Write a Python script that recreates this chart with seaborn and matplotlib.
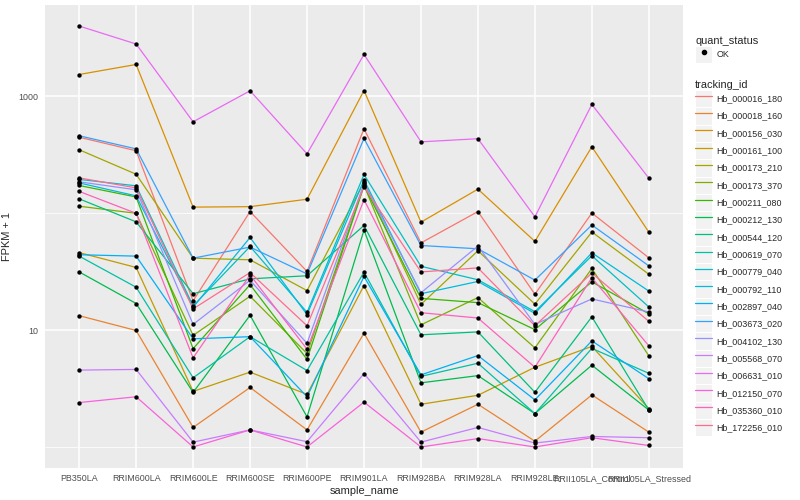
import matplotlib
matplotlib.use('Agg')
import matplotlib.pyplot as plt
import pandas as pd
import seaborn as sns
from matplotlib.lines import Line2D
from matplotlib.patches import Rectangle
from matplotlib.legend_handler import HandlerLine2D

# Data (FPKM values, plotted as FPKM + 1)
samples = ['PB350LA', 'RRIM600LA', 'RRIM600LE', 'RRIM600SE', 'RRIM600PE', 'RRIM901LA',
           'RRIM928BA', 'RRIM928LA', 'RRIM928LE', 'RRII105LA_Control', 'RRII105LA_Stressed']

tracking_ids = ['Hb_000016_180', 'Hb_000018_160', 'Hb_000156_030', 'Hb_000161_100',
                'Hb_000173_210', 'Hb_000173_370', 'Hb_000211_080', 'Hb_000212_130',
                'Hb_000544_120', 'Hb_000619_070', 'Hb_000779_040', 'Hb_000792_110',
                'Hb_002897_040', 'Hb_003673_020', 'Hb_004102_130', 'Hb_005568_070',
                'Hb_006631_010', 'Hb_012150_070', 'Hb_035360_010', 'Hb_172256_010']

hb_000016_180 = [447, 342, 16.8, 102.5, 30.8, 528, 54.8, 102.5, 19.3, 99.5, 40.6]
hb_000018_160 = [12.3, 8.93, 0.47, 2.23, 0.40, 8.42, 0.34, 1.32, 0.12, 1.79, 0.34]
hb_000156_030 = [1541, 1878, 112, 113, 131, 1124, 83, 160, 56.5, 370, 68]
hb_000161_100 = [45.1, 33.4, 1.99, 3.37, 1.82, 23.1, 1.32, 1.77, 3.81, 6.26, 1.13]
hb_000173_210 = [349, 215, 40.3, 39.0, 20.8, 184, 15.6, 46.8, 15.7, 68.2, 29.1]
hb_000173_370 = [114, 99, 8.02, 18.5, 5.31, 173, 10.1, 18.0, 6.05, 32.7, 5.03]
hb_000211_080 = [172, 137, 5.95, 23.5, 4.62, 171, 17.7, 16.2, 9.1, 24.9, 12.8]
hb_000212_130 = [30.5, 15.9, 1.93, 12.4, 0.81, 70.9, 2.54, 3.08, 0.93, 4.01, 1.07]
hb_000544_120 = [132, 83.5, 19.5, 26.5, 28.2, 77.7, 8.12, 8.66, 1.94, 12.0, 1.07]
hb_000619_070 = [42.0, 22.3, 2.91, 7.79, 3.51, 30.4, 3.02, 4.21, 0.93, 5.98, 3.27]
hb_000779_040 = [194, 171, 15.1, 51, 13.2, 214, 34.2, 26.0, 13.4, 42.3, 14.8]
hb_000792_110 = [181, 140, 14.7, 61.1, 12.6, 192, 19.5, 25.1, 12.9, 44.9, 20.6]
hb_002897_040 = [43.2, 42.0, 7.43, 7.79, 1.69, 27.8, 3.14, 5.06, 1.53, 7.09, 2.84]
hb_003673_020 = [460, 355, 40.3, 50.4, 29.3, 436, 52.0, 48.7, 25.8, 78.4, 34.5]
hb_004102_130 = [185, 158, 10.2, 25.7, 6.71, 179, 19.9, 51.4, 10.2, 17.5, 13.3]
hb_005568_070 = [3.55, 3.61, 0.10, 0.40, 0.11, 3.25, 0.10, 0.47, 0.08, 0.23, 0.20]
hb_006631_010 = [4008, 2811, 606, 1118, 322, 2290, 408, 434, 92.3, 854, 199]
hb_012150_070 = [1.40, 1.69, 0.0, 0.40, 0.0, 1.42, 0.0, 0.18, 0.0, 0.20, 0.03]
hb_035360_010 = [153, 99, 4.79, 28.7, 5.87, 130, 13.1, 11.7, 3.81, 27.1, 6.34]
hb_172256_010 = [200, 164, 14.2, 30.1, 9.9, 168, 30.5, 33.1, 9.9, 29.8, 10.9]

values = [hb_000016_180, hb_000018_160, hb_000156_030, hb_000161_100, hb_000173_210,
          hb_000173_370, hb_000211_080, hb_000212_130, hb_000544_120, hb_000619_070,
          hb_000779_040, hb_000792_110, hb_002897_040, hb_003673_020, hb_004102_130,
          hb_005568_070, hb_006631_010, hb_012150_070, hb_035360_010, hb_172256_010]

# ggplot default hue palette for 20 groups
colors = ['#F8766D', '#EA8331', '#D89000', '#C09B00', '#A3A500', '#7CAE00', '#39B600',
          '#00BB4E', '#00BF7D', '#00C1A3', '#00BFC4', '#00BAE0', '#00B0F6', '#35A2FF',
          '#9590FF', '#C77CFF', '#E76BF3', '#FA62DB', '#FF62BC', '#FF6C91']

rows = []
for tid, vals in zip(tracking_ids, values):
    for s, v in zip(samples, vals):
        rows.append({'tracking_id': tid, 'sample_name': s, 'fpkm': v, 'quant_status': 'OK'})
df = pd.DataFrame(rows)
df['fpkm1'] = df['fpkm'] + 1

sns.set_style('darkgrid', {'axes.facecolor': '#EBEBEB', 'grid.color': 'white'})
plt.rcParams['font.family'] = ['Liberation Sans', 'DejaVu Sans']

fig = plt.figure(figsize=(8, 5), dpi=100)
ax = fig.add_axes([45 / 800, 1 - 468 / 500, 638 / 800, 463 / 500])

sns.lineplot(data=df, x='sample_name', y='fpkm1', hue='tracking_id', hue_order=tracking_ids,
             palette=colors, sort=False, errorbar=None, linewidth=0.9, legend=False, ax=ax)
sns.scatterplot(data=df, x='sample_name', y='fpkm1', color='black', s=10, linewidth=0,
                legend=False, ax=ax, zorder=5)

ax.set_yscale('log')
ax.set_ylim(10 ** -0.18, 10 ** 3.783)
ax.set_xlim(-0.6, len(samples) - 0.4)
ax.set_yticks([10, 1000])
ax.set_yticklabels(['10', '1000'])
ax.set_yticks([1, 100], minor=True)
ax.yaxis.set_minor_formatter(plt.NullFormatter())
ax.grid(True, which='major', color='white', linewidth=1.1)
ax.grid(True, which='minor', axis='y', color='white', linewidth=0.55)
ax.set_axisbelow(True)
for sp in ax.spines.values():
    sp.set_visible(False)
ax.tick_params(axis='both', which='major', length=2.5, width=0.6, color='#333333',
               labelsize=6.4, labelcolor='#4D4D4D', pad=2)
ax.tick_params(axis='y', which='minor', length=0)
ax.set_xlabel('sample_name', fontsize=7.9, labelpad=2)
ax.set_ylabel('FPKM + 1', fontsize=7.9, labelpad=1)
ax.yaxis.set_label_coords(-33 / 638, 0.5)


class KeyBox(HandlerLine2D):
    def create_artists(self, legend, orig_handle, xdescent, ydescent, width, height, fontsize, trans):
        bg = Rectangle((-xdescent, -ydescent), width, height, facecolor='#F2F2F2',
                       edgecolor='white', linewidth=0.8, transform=trans)
        arts = super().create_artists(legend, orig_handle, xdescent, ydescent, width, height, fontsize, trans)
        return [bg] + list(arts)


leg_kw = dict(frameon=False, fontsize=6.4, title_fontsize=7.9, handlelength=1.95,
              handleheight=2.62, labelspacing=0, handletextpad=0.45, borderpad=0,
              borderaxespad=0, alignment='left', handler_map={Line2D: KeyBox()})

ok_handle = [Line2D([], [], marker='o', color='black', linestyle='none', markersize=3)]
leg1 = fig.legend(ok_handle, ['OK'], title='quant_status', loc='upper left',
                  bbox_to_anchor=(695 / 800, 1 - 36 / 500), **leg_kw)

line_handles = [Line2D([], [], color=c, linewidth=0.9) for c in colors]
leg2 = fig.legend(line_handles, tracking_ids, title='tracking_id', loc='upper left',
                  bbox_to_anchor=(695 / 800, 1 - 80 / 500), **leg_kw)

fig.savefig('out.png', dpi=100, facecolor='white')
